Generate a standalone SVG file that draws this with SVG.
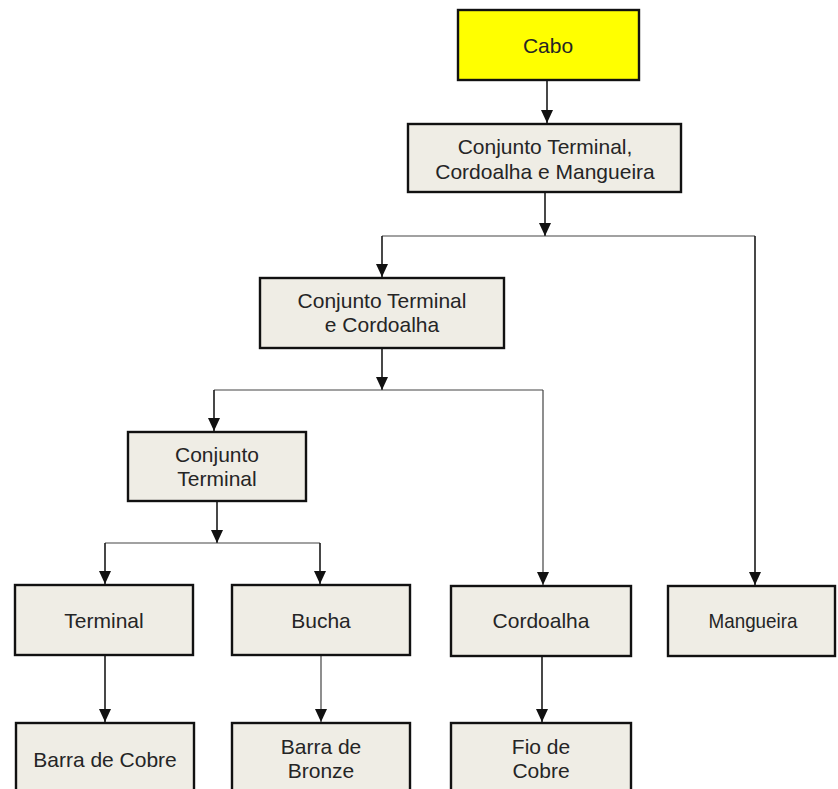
<svg xmlns="http://www.w3.org/2000/svg" width="838" height="789" viewBox="0 0 838 789">
  <style>
    .box { fill: #efede5; stroke: #111; stroke-width: 2.4; }
    .root { fill: #ffff00; stroke: #111; stroke-width: 2.4; }
    .lbl { font-family: "Liberation Sans", Arial, sans-serif; font-size: 21px; fill: #252525; text-anchor: middle; }
    .wire { fill: none; stroke: #1a1a1a; stroke-width: 1.6; }
    .bus { fill: none; stroke: #444; stroke-width: 1.2; }
  </style>
  <defs>
    <!-- filled triangular arrowhead, tip at the end of the line -->
    <marker id="arrow" markerUnits="userSpaceOnUse" markerWidth="13" markerHeight="12" refX="13" refY="6" orient="auto" viewBox="0 0 13 12">
      <path d="M0 0 L13 6 L0 12 Z" fill="#111"/>
    </marker>
  </defs>
  <rect width="838" height="789" fill="#fff"/>

  <!-- connectors -->
  <g id="connectors">
    <path class="wire" d="M547 80 V123" marker-end="url(#arrow)"/>
    <path class="wire" d="M545 192 V236" marker-end="url(#arrow)"/>
    <path class="bus" d="M382 236 H755"/>
    <path class="wire" d="M382 236 V277" marker-end="url(#arrow)"/>
    <path class="wire" d="M755 236 V585" marker-end="url(#arrow)"/>

    <path class="wire" d="M382 348 V390" marker-end="url(#arrow)"/>
    <path class="bus" d="M214 390 H543"/>
    <path class="wire" d="M214 390 V431" marker-end="url(#arrow)"/>
    <path class="bus" d="M543 390 V585" marker-end="url(#arrow)"/>

    <path class="wire" d="M217 501 V543" marker-end="url(#arrow)"/>
    <path class="bus" d="M105 543 H320"/>
    <path class="wire" d="M105 543 V584" marker-end="url(#arrow)"/>
    <path class="wire" d="M320 543 V584" marker-end="url(#arrow)"/>

    <path class="wire" d="M105 655 V722" marker-end="url(#arrow)"/>
    <path class="bus" d="M321 655 V722" marker-end="url(#arrow)"/>
    <path class="wire" d="M542 656 V722" marker-end="url(#arrow)"/>
  </g>

  <!-- nodes -->
  <g id="cabo">
    <rect class="root" x="458" y="10" width="181" height="70"/>
    <text class="lbl" x="548" y="53">Cabo</text>
  </g>
  <g id="conjunto-terminal-cordoalha-mangueira">
    <rect class="box" x="408" y="124" width="273" height="68"/>
    <text class="lbl" x="545" y="154">Conjunto Terminal,</text>
    <text class="lbl" x="545" y="179">Cordoalha e Mangueira</text>
  </g>
  <g id="conjunto-terminal-cordoalha">
    <rect class="box" x="260" y="278" width="244" height="70"/>
    <text class="lbl" x="382" y="308">Conjunto Terminal</text>
    <text class="lbl" x="382" y="332">e Cordoalha</text>
  </g>
  <g id="conjunto-terminal">
    <rect class="box" x="128" y="432" width="178" height="69"/>
    <text class="lbl" x="217" y="462">Conjunto</text>
    <text class="lbl" x="217" y="486">Terminal</text>
  </g>
  <g id="terminal">
    <rect class="box" x="15" y="585" width="178" height="70"/>
    <text class="lbl" x="104" y="628">Terminal</text>
  </g>
  <g id="bucha">
    <rect class="box" x="232" y="585" width="178" height="70"/>
    <text class="lbl" x="321" y="628">Bucha</text>
  </g>
  <g id="cordoalha">
    <rect class="box" x="451" y="586" width="180" height="70"/>
    <text class="lbl" x="541" y="628">Cordoalha</text>
  </g>
  <g id="mangueira">
    <rect class="box" x="668" y="586" width="167" height="70"/>
    <!-- narrower set label -->
    <text class="lbl" x="753" y="628" textLength="89" lengthAdjust="spacingAndGlyphs">Mangueira</text>
  </g>
  <g id="barra-de-cobre">
    <rect class="box" x="16" y="723" width="178" height="76"/>
    <text class="lbl" x="105" y="767">Barra de Cobre</text>
  </g>
  <g id="barra-de-bronze">
    <rect class="box" x="232" y="723" width="178" height="76"/>
    <text class="lbl" x="321" y="754">Barra de</text>
    <text class="lbl" x="321" y="778">Bronze</text>
  </g>
  <g id="fio-de-cobre">
    <rect class="box" x="451" y="723" width="180" height="76"/>
    <text class="lbl" x="541" y="754">Fio de</text>
    <text class="lbl" x="541" y="778">Cobre</text>
  </g>
</svg>
